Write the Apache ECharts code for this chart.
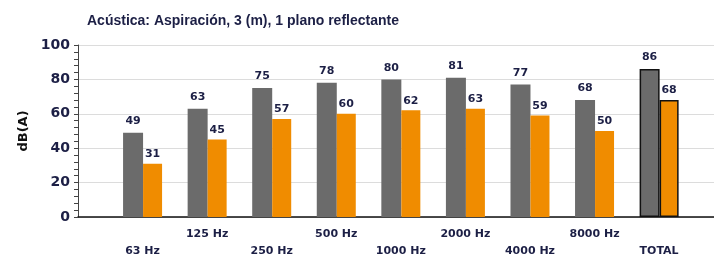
<!DOCTYPE html>
<html>
<head>
<meta charset="utf-8">
<script src="https://cdn.jsdelivr.net/npm/echarts@6/dist/echarts.min.js"></script>
<style>
  html, body { margin: 0; padding: 0; background: #fff; }
  #chart { width: 714px; height: 260px; }
</style>
</head>
<body>
<div id="chart"></div>
<script>
// datos de la gráfica
var categories = ["63 Hz", "125 Hz", "250 Hz", "500 Hz", "1000 Hz", "2000 Hz", "4000 Hz", "8000 Hz", "TOTAL"];
var grayValues = [49, 63, 75, 78, 80, 81, 77, 68, 86];
var orangeValues = [31, 45, 57, 60, 62, 63, 59, 50, 68];
var yTicks = [0, 20, 40, 60, 80, 100];

var textColor = "#1c1f45";

function toPairs(values) {
  return values.map(function (v, i) {
    var item = { value: [i, v] };
    if (categories[i] === "TOTAL") {
      // el total lleva borde negro
      item.itemStyle = { borderColor: "#111", borderWidth: 1.5 };
    }
    return item;
  });
}

var myChart = echarts.init(document.getElementById("chart"));

var option = {
  animation: false,
  title: {
    text: "Acústica: Aspiración, 3 (m), 1 plano reflectante",
    left: 82,
    top: 9,
    textStyle: {
      fontFamily: "Liberation Sans",
      fontSize: 14,
      fontWeight: "bold",
      color: textColor
    }
  },
  grid: {
    left: 78,
    right: 0,
    top: 45,
    bottom: 38
  },
  xAxis: {
    type: "value",
    min: -1,
    max: 8.85,
    interval: 1,
    splitLine: { show: false },
    axisTick: { show: false },
    axisLine: { show: true, onZero: false, lineStyle: { color: "#111", width: 1.5 } },
    axisLabel: {
      margin: 9,
      showMaxLabel: false,
      lineHeight: 17,
      fontFamily: "DejaVu Sans",
      fontSize: 11,
      fontWeight: "bold",
      color: textColor,
      formatter: function (v) {
        var name = categories[v];
        if (!name) return "";
        // etiquetas alternadas en dos filas
        return v % 2 === 0 ? "\n" + name : name;
      }
    }
  },
  yAxis: {
    type: "value",
    min: yTicks[0],
    max: yTicks[yTicks.length - 1],
    interval: 20,
    name: "dB(A)",
    nameLocation: "middle",
    nameGap: 47,
    nameTextStyle: {
      fontFamily: "DejaVu Sans",
      fontSize: 13,
      fontWeight: "bold",
      color: "#111"
    },
    axisLine: { show: true, onZero: false, lineStyle: { color: "#444", width: 1 } },
    axisTick: { show: true, length: 4, lineStyle: { color: "#444" } },
    minorTick: { show: true, splitNumber: 5, length: 4, lineStyle: { color: "#444" } },
    splitLine: { show: true, lineStyle: { color: "#dcdcdc", width: 1 } },
    axisLabel: {
      margin: 8,
      fontFamily: "DejaVu Sans",
      fontSize: 14,
      fontWeight: "bold",
      color: textColor
    }
  },
  series: [
    {
      name: "Gris",
      type: "bar",
      data: toPairs(grayValues),
      barWidth: 20,
      barGap: "0%",
      itemStyle: { color: "#6b6b6b" },
      label: {
        show: true,
        position: "top",
        distance: 6,
        formatter: function (p) { return p.value[1]; },
        fontFamily: "DejaVu Sans",
        fontSize: 11,
        fontWeight: "bold",
        color: textColor
      }
    },
    {
      name: "Naranja",
      type: "bar",
      data: toPairs(orangeValues),
      barWidth: 19,
      barGap: "0%",
      itemStyle: { color: "#f08c00" },
      label: {
        show: true,
        position: "top",
        distance: 4,
        formatter: function (p) { return p.value[1]; },
        fontFamily: "DejaVu Sans",
        fontSize: 11,
        fontWeight: "bold",
        color: textColor
      }
    }
  ]
};

myChart.setOption(option);
</script>
</body>
</html>
